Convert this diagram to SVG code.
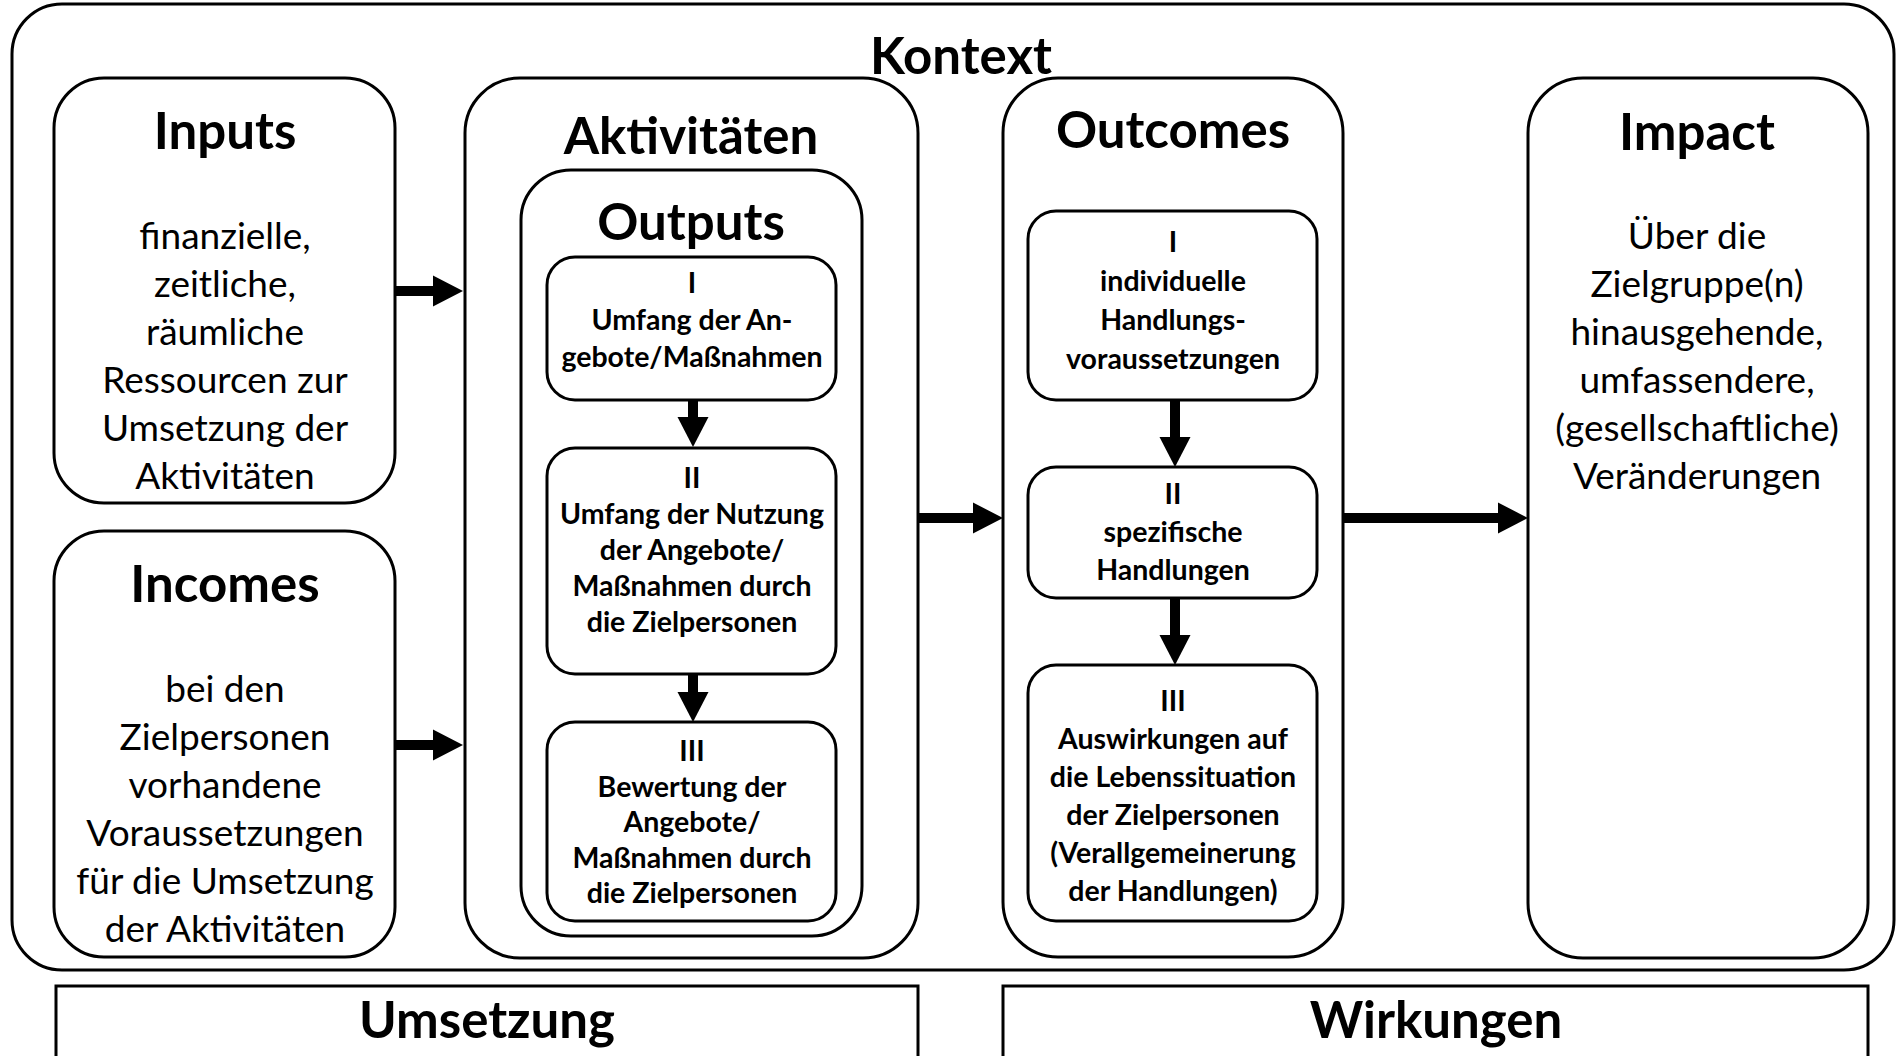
<svg xmlns="http://www.w3.org/2000/svg" width="1896" height="1056" viewBox="0 0 1896 1056">
<style>
.box{fill:#fff;stroke:#000;stroke-width:3}
text{transform:translate(0px,2px)}
.t{font-family:Lato,"Open Sans",sans-serif;font-weight:700;font-size:51px;text-anchor:middle;fill:#000}
.b{font-family:Lato,"Open Sans",sans-serif;font-weight:400;font-size:37px;text-anchor:middle;fill:#000}
.s{font-family:Lato,"Open Sans",sans-serif;font-weight:700;font-size:28.5px;text-anchor:middle;fill:#000}
.c{stroke:#000;stroke-width:10;fill:none;marker-end:url(#ah)}
</style>
<defs>
<marker id="ah" markerUnits="userSpaceOnUse" markerWidth="30" markerHeight="31" refX="0" refY="15.5" orient="auto" overflow="visible">
<path d="M0,0 L30,15.5 L0,31 Z" fill="#000"/>
</marker>
</defs>
<rect width="1896" height="1056" fill="#fff"/>
<g id="kontext">
<rect class="box" x="12" y="4" width="1882" height="966" rx="50"/>
<text class="t" x="961" y="72">Kontext</text>
</g>
<g id="inputs">
<rect class="box" x="54" y="78" width="341" height="425" rx="50"/>
<text class="t" x="225" y="147">Inputs</text>
<text class="b" x="225" y="247">finanzielle,</text>
<text class="b" x="225" y="295">zeitliche,</text>
<text class="b" x="225" y="343">räumliche</text>
<text class="b" x="225" y="391">Ressourcen zur</text>
<text class="b" x="225" y="439">Umsetzung der</text>
<text class="b" x="225" y="487">Aktivitäten</text>
</g>
<g id="incomes">
<rect class="box" x="54" y="531" width="341" height="426" rx="50"/>
<text class="t" x="225" y="600">Incomes</text>
<text class="b" x="225" y="700">bei den</text>
<text class="b" x="225" y="748">Zielpersonen</text>
<text class="b" x="225" y="796">vorhandene</text>
<text class="b" x="225" y="844">Voraussetzungen</text>
<text class="b" x="225" y="892">für die Umsetzung</text>
<text class="b" x="225" y="940">der Aktivitäten</text>
</g>
<g id="aktivitaeten">
<rect class="box" x="465" y="78" width="453" height="880" rx="55"/>
<text class="t" x="691" y="152">Aktivitäten</text>
</g>
<g id="outputs">
<rect class="box" x="521" y="170" width="341" height="766" rx="50"/>
<text class="t" x="691" y="238">Outputs</text>
</g>
<g id="output1">
<rect class="box" x="547" y="257" width="289" height="143" rx="28"/>
<text class="s" x="692" y="291">I</text>
<text class="s" x="692" y="328">Umfang der An-</text>
<text class="s" x="692" y="365">gebote/Maßnahmen</text>
</g>
<g id="output2">
<rect class="box" x="547" y="448" width="289" height="226" rx="28"/>
<text class="s" x="692" y="486">II</text>
<text class="s" x="692" y="522">Umfang der Nutzung</text>
<text class="s" x="692" y="558">der Angebote/</text>
<text class="s" x="692" y="594">Maßnahmen durch</text>
<text class="s" x="692" y="630">die Zielpersonen</text>
</g>
<g id="output3">
<rect class="box" x="547" y="722" width="289" height="199" rx="28"/>
<text class="s" x="692" y="759">III</text>
<text class="s" x="692" y="795">Bewertung der</text>
<text class="s" x="692" y="830">Angebote/</text>
<text class="s" x="692" y="866">Maßnahmen durch</text>
<text class="s" x="692" y="901">die Zielpersonen</text>
</g>
<g id="outcomes">
<rect class="box" x="1003" y="78" width="340" height="879" rx="55"/>
<text class="t" x="1173" y="146">Outcomes</text>
</g>
<g id="outcome1">
<rect class="box" x="1028" y="211" width="289" height="189" rx="28"/>
<text class="s" x="1173" y="250">I</text>
<text class="s" x="1173" y="289">individuelle</text>
<text class="s" x="1173" y="328">Handlungs-</text>
<text class="s" x="1173" y="367">voraussetzungen</text>
</g>
<g id="outcome2">
<rect class="box" x="1028" y="467" width="289" height="131" rx="28"/>
<text class="s" x="1173" y="502">II</text>
<text class="s" x="1173" y="540">spezifische</text>
<text class="s" x="1173" y="578">Handlungen</text>
</g>
<g id="outcome3">
<rect class="box" x="1028" y="665" width="289" height="256" rx="28"/>
<text class="s" x="1173" y="709">III</text>
<text class="s" x="1173" y="747">Auswirkungen auf</text>
<text class="s" x="1173" y="785">die Lebenssituation</text>
<text class="s" x="1173" y="823">der Zielpersonen</text>
<text class="s" x="1173" y="861">(Verallgemeinerung</text>
<text class="s" x="1173" y="899">der Handlungen)</text>
</g>
<g id="impact">
<rect class="box" x="1528" y="78" width="340" height="880" rx="55"/>
<text class="t" x="1697" y="148">Impact</text>
<text class="b" x="1697" y="247">Über die</text>
<text class="b" x="1697" y="295">Zielgruppe(n)</text>
<text class="b" x="1697" y="343">hinausgehende,</text>
<text class="b" x="1697" y="391">umfassendere,</text>
<text class="b" x="1697" y="439">(gesellschaftliche)</text>
<text class="b" x="1697" y="487">Veränderungen</text>
</g>
<g id="umsetzung">
<rect class="box" x="56" y="986" width="862" height="100" rx="0"/>
<text class="t" x="487" y="1036">Umsetzung</text>
</g>
<g id="wirkungen">
<rect class="box" x="1003" y="986" width="865" height="100" rx="0"/>
<text class="t" x="1436" y="1036">Wirkungen</text>
</g>
<g id="connectors">
<line class="c" x1="395" y1="291" x2="433" y2="291"/>
<line class="c" x1="395" y1="745" x2="433" y2="745"/>
<line class="c" x1="918" y1="518" x2="973" y2="518"/>
<line class="c" x1="1343" y1="518" x2="1498" y2="518"/>
<line class="c" x1="693" y1="400" x2="693" y2="417"/>
<line class="c" x1="693" y1="674" x2="693" y2="692"/>
<line class="c" x1="1175" y1="400" x2="1175" y2="437"/>
<line class="c" x1="1175" y1="598" x2="1175" y2="635"/>
</g>
</svg>
